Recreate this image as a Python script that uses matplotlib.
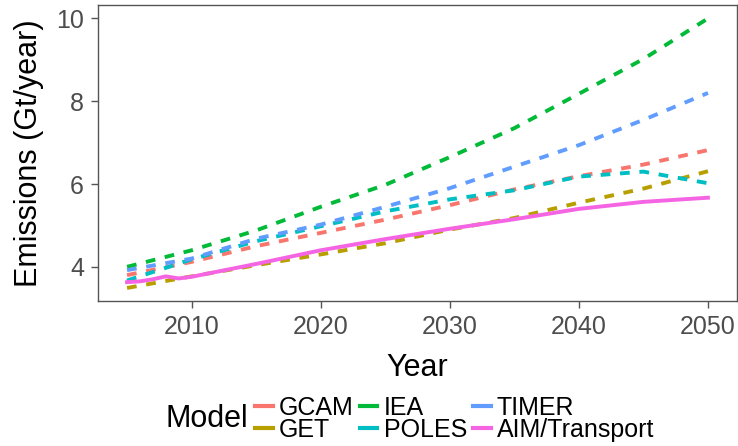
import matplotlib.pyplot as plt
from matplotlib.lines import Line2D

plt.rcParams['font.family'] = ['Liberation Sans', 'DejaVu Sans']

years = [2005, 2010, 2015, 2020, 2025, 2030, 2035, 2040, 2045, 2050]
gcam = [3.80, 4.12, 4.50, 4.82, 5.14, 5.49, 5.87, 6.19, 6.47, 6.82]
get = [3.49, 3.77, 4.04, 4.30, 4.57, 4.90, 5.18, 5.55, 5.89, 6.31]
iea = [4.00, 4.40, 4.88, 5.45, 5.98, 6.65, 7.35, 8.18, 9.02, 10.00]
poles = [3.67, 4.18, 4.62, 4.98, 5.34, 5.63, 5.85, 6.18, 6.30, 6.02]
timer = [3.92, 4.20, 4.68, 5.02, 5.45, 5.90, 6.42, 6.94, 7.55, 8.20]
aim_years = [2005, 2006, 2007, 2008, 2009, 2010, 2015, 2020, 2025, 2030, 2035, 2040, 2045, 2050]
aim = [3.63, 3.65, 3.70, 3.77, 3.72, 3.76, 4.07, 4.40, 4.67, 4.92, 5.15, 5.40, 5.57, 5.67]

models = ['GCAM', 'GET', 'IEA', 'POLES', 'TIMER', 'AIM/Transport']
colors = ['#F8766D', '#B79F00', '#00BA38', '#00BFC4', '#619CFF', '#F564E3']

fig = plt.figure(figsize=(7.38, 4.46), dpi=100)
ax = fig.add_axes([98/738, 1 - 301/446, 639/738, 296/446])

series = [gcam, get, iea, poles, timer]
for vals, c in zip(series, colors[:5]):
    ax.plot(years, vals, color=c, lw=2.8, ls=(0, (2.5, 2.5)))
ax.plot(aim_years, aim, color=colors[5], lw=2.8)

ax.set_xlim(2002.75, 2052.25)
ax.set_ylim(3.175, 10.325)
ax.set_xticks([2010, 2020, 2030, 2040, 2050])
ax.set_yticks([4, 6, 8, 10])
for s in ax.spines.values():
    s.set_color('#555555')
    s.set_linewidth(1)
ax.tick_params(colors='#555555', labelcolor='#4D4D4D', labelsize=18, length=5, width=1, pad=5)
ax.set_xlabel('Year', fontsize=22, color='black', labelpad=10)
ax.set_ylabel('Emissions (Gt/year)', fontsize=22, color='black', labelpad=9)

handles = [Line2D([0], [0], color=c, lw=3) for c in colors]
fig.text(165/738, 1 - 419/446, 'Model', fontsize=22, va='center', ha='left')
fig.legend(handles, models, loc='center left', bbox_to_anchor=(255/738, 1 - 419/446),
           ncol=3, frameon=False, fontsize=18, handlelength=0.7, handletextpad=0.25,
           columnspacing=0.25, labelspacing=-0.08, borderpad=0, borderaxespad=0)

fig.savefig('out.png', dpi=100)
